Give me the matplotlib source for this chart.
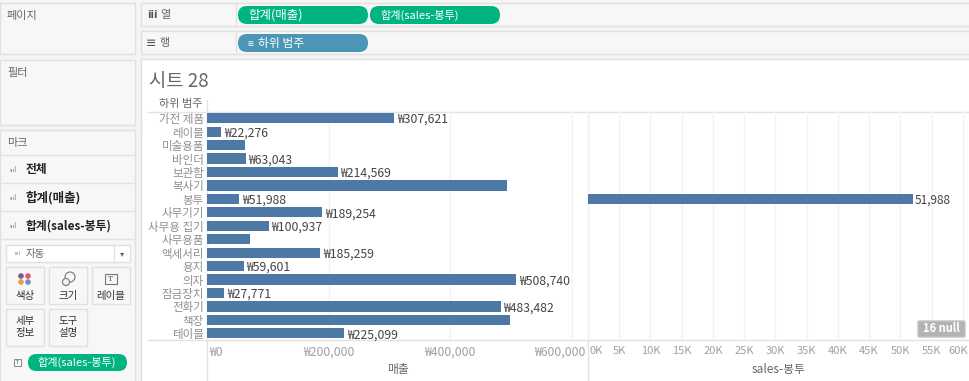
import matplotlib
matplotlib.use('Agg')
import matplotlib.pyplot as plt
from matplotlib.patches import Rectangle, FancyBboxPatch, Circle
from matplotlib.transforms import ScaledTranslation

plt.rcParams['font.family'] = ['Noto Sans CJK KR', 'DejaVu Sans']

# data
categories = ['가전 제품', '레이블', '미술용품', '바인더', '보관함', '복사기', '봉투', '사무기기',
              '사무용 집기', '사무용품', '액세서리', '용지', '의자', '잠금장치', '전화기', '책장', '테이블']
sales = [307621, 22276, 62000, 63043, 214569, 492851, 51988, 189254,
         100937, 70000, 185259, 59601, 508740, 27771, 483482, 499000, 225099]
# rows where the picture shows no label (no room for it)
no_label = ['미술용품', '복사기', '사무용품', '책장']
envelope_cat = ['봉투']
envelope_sales = [51988]

sales_ticks = [0, 200000, 400000, 600000]
sales_ticklabels = ['₩0', '₩200,000', '₩400,000', '₩600,000']
env_ticks = [0, 5000, 10000, 15000, 20000, 25000, 30000, 35000, 40000, 45000, 50000, 55000, 60000]
env_ticklabels = ['0K', '5K', '10K', '15K', '20K', '25K', '30K', '35K', '40K', '45K', '50K', '55K', '60K']

W, H = 970, 381
BAR = '#4e79a7'
GREEN = '#00b481'
TEAL = '#4a96b4'
GRID = '#f3f3f3'
LINE = '#e2e2e2'
TXT = '#666666'
LIGHT = '#8f8f8f'

fig = plt.figure(figsize=(W / 100, H / 100), dpi=100, facecolor='#f5f5f5')

# everything around the chart is drawn in pixel coordinates
bg = fig.add_axes([0, 0, 1, 1], zorder=0)
bg.set_xlim(0, W)
bg.set_ylim(H, 0)
bg.axis('off')


def panel(x0, y0, x1, y1, fc='white', ec='#e0e0e0', lw=1.0):
    bg.add_patch(Rectangle((x0, y0), x1 - x0, y1 - y0, fc=fc, ec=ec, lw=lw))


def pill(x0, y0, x1, y1, color, text, tx=None, fs=8):
    r = (y1 - y0) / 2
    bg.add_patch(FancyBboxPatch((x0, y0), x1 - x0, y1 - y0,
                                boxstyle='round,pad=0,rounding_size=%f' % r,
                                mutation_aspect=1, fc=color, ec='none'))
    bg.text(tx if tx else x0 + 10, (y0 + y1) / 2, text, color='white', fontsize=fs, va='center')


# left column
panel(0, 3, 135, 54, fc='#f7f7f7')
panel(0, 60, 135, 125, fc='#f7f7f7')
panel(0, 130, 135, 382, fc='#f7f7f7')
bg.text(7, 16, '페이지', fontsize=8, color=TXT, va='center')
bg.text(7, 73, '필터', fontsize=8, color=TXT, va='center')
bg.text(7, 143, '마크', fontsize=8, color=TXT, va='center')
for y in [155, 183, 211, 239]:
    bg.plot([0, 135], [y, y], color=LINE, lw=1)
bg.text(26, 169, '전체', fontsize=8.5, color='#222222', va='center', fontweight='bold')
bg.text(26, 198, '합계(매출)', fontsize=9, color='#222222', va='center', fontweight='bold')
bg.text(26, 226, '합계(sales-봉투)', fontsize=8.5, color='#222222', va='center', fontweight='bold')
for y in [170, 198, 226]:
    bg.text(13, y, 'ıııl', fontsize=4.5, color='#777777', va='center', ha='center')

# mark type dropdown
panel(6, 245, 130, 262)
bg.plot([114, 114], [245, 262], color=LINE, lw=1)
bg.text(26, 253.5, '자동', fontsize=7.5, color=TXT, va='center')
bg.text(18, 253.5, 'ıııl', fontsize=4, color='#888888', va='center', ha='center')
bg.text(122, 253.5, '▾', fontsize=6, color='#666666', va='center', ha='center')

# mark buttons
for x0, x1, y0, y1 in [(6, 44, 267, 304), (49, 87, 267, 304), (92, 130, 267, 304),
                       (6, 44, 309, 346), (49, 87, 309, 346)]:
    panel(x0, y0, x1, y1, fc='#f7f7f7')
bg.text(25, 296, '색상', fontsize=7.5, color='#333333', ha='center', va='center')
bg.text(68, 296, '크기', fontsize=7.5, color='#333333', ha='center', va='center')
bg.text(111, 296, '레이블', fontsize=7.5, color='#333333', ha='center', va='center')
bg.text(25, 321, '세부', fontsize=7.5, color='#333333', ha='center', va='center')
bg.text(25, 333, '정보', fontsize=7.5, color='#333333', ha='center', va='center')
bg.text(68, 321, '도구', fontsize=7.5, color='#333333', ha='center', va='center')
bg.text(68, 333, '설명', fontsize=7.5, color='#333333', ha='center', va='center')
for (cx, cy), c in zip([(21, 276), (28, 276), (21, 282), (28, 282)],
                       ['#7b5a8c', '#e2596b', '#eb9a4e', '#6f8fc0']):
    bg.add_patch(Circle((cx, cy), 2.8, fc=c, ec='none'))
bg.add_patch(Circle((70, 277), 5, fc='none', ec='#777777', lw=0.8))
bg.add_patch(Circle((66, 282), 3.5, fc='#f7f7f7', ec='#777777', lw=0.8))
bg.add_patch(Rectangle((105, 274), 12, 10, fc='none', ec='#777777', lw=0.8))
bg.text(111, 279, 'T', fontsize=5.5, color='#555555', ha='center', va='center', family='DejaVu Serif')
bg.add_patch(Rectangle((14, 359), 7, 7, fc='none', ec='#888888', lw=0.7))
bg.text(17.5, 362.5, 'T', fontsize=4, color='#666666', ha='center', va='center')
pill(28, 354, 127, 371, GREEN, '합계(sales-봉투)', tx=37, fs=8)

# shelves
panel(141, 3, 971, 26, fc='#f7f7f7')
panel(141, 31, 971, 54, fc='#f7f7f7')
bg.plot([236.5, 236.5], [3, 26], color=LINE, lw=1)
bg.plot([236.5, 236.5], [31, 54], color=LINE, lw=1)
bg.text(147, 15, 'iii', fontsize=7, color='#555555', va='center', family='DejaVu Sans', fontweight='bold')
bg.text(160, 15, '열', fontsize=8, color=TXT, va='center')
bg.text(146, 43, '≡', fontsize=9, color='#555555', va='center', family='DejaVu Sans')
bg.text(160, 43, '행', fontsize=8, color=TXT, va='center')
pill(238, 6, 368, 24, GREEN, '합계(매출)', tx=248, fs=9)
pill(370, 6, 500, 24, GREEN, '합계(sales-봉투)', tx=380, fs=8)
pill(238, 34, 368, 52, TEAL, '하위 범주', tx=258, fs=8.5)
bg.text(250, 43.5, '⊞', fontsize=5, color='white', va='center', ha='center', family='DejaVu Sans')

# chart sheet
panel(141, 59, 971, 382)
bg.text(149, 81, '시트 28', fontsize=13.5, color='#666666', va='center')
bg.text(203, 104, '하위 범주', fontsize=8, color=TXT, ha='right', va='center')

TOP, BOTTOM = 111.5, 340
L0, L1 = 207.5, 588
R0, R1 = 588, 969
bg.plot([148, 969], [TOP, TOP], color=LINE, lw=1)
bg.plot([148, 969], [BOTTOM, BOTTOM], color=LINE, lw=1)
bg.plot([L0, L0], [100, H], color=LINE, lw=1)
bg.plot([L1, L1], [TOP, H], color=LINE, lw=1)
bg.text(398, 370, '매출', fontsize=8.5, color=TXT, ha='center', va='center')
bg.text(779, 370, 'sales-봉투', fontsize=8.5, color=TXT, ha='center', va='center')


def chart_axes(x0, x1):
    ax = fig.add_axes([x0 / W, 1 - BOTTOM / H, (x1 - x0) / W, (BOTTOM - TOP) / H], zorder=1)
    ax.patch.set_alpha(0)
    for s in ax.spines.values():
        s.set_visible(False)
    ax.set_axisbelow(True)
    ax.grid(True, axis='x', color=GRID, lw=1)
    ax.tick_params(length=0, pad=5)
    ax.set_ylim(len(categories) - 0.5, -0.5)
    return ax


def shift_label(label, px, ha):
    label.set_ha(ha)
    label.set_transform(label.get_transform() + ScaledTranslation(px / 100, 0, fig.dpi_scale_trans))


ax1 = chart_axes(L0, L1)
ypos = list(range(len(categories)))
ax1.barh(ypos, sales, height=0.76, color=BAR)
ax1.set_xlim(0, 627000)
ax1.set_yticks(ypos)
ax1.set_yticklabels(categories, fontsize=8.3, color=LIGHT)
ax1.tick_params(axis='y', pad=2.5)
ax1.set_xticks(sales_ticks)
ax1.set_xticklabels(sales_ticklabels, fontsize=8.8, color='#a0a0a0')
ax1.tick_params(axis='x', pad=4)
xl = ax1.get_xticklabels()
shift_label(xl[0], 1.5, 'left')
shift_label(xl[-1], 14, 'right')
for y, cat, v in zip(ypos, categories, sales):
    if cat not in no_label:
        ax1.annotate('₩{:,}'.format(v), (v, y), xytext=(2, -1), textcoords='offset points',
                     fontsize=8.8, color='#444444', va='center')

ax2 = chart_axes(R0, R1)
env_y = [categories.index(c) for c in envelope_cat]
ax2.barh(env_y, envelope_sales, height=0.76, color=BAR)
ax2.set_xlim(0, 61000)
ax2.set_yticks([])
ax2.set_xticks(env_ticks)
ax2.set_xticklabels(env_ticklabels, fontsize=8, color='#a0a0a0')
ax2.tick_params(axis='x', pad=4)
xl = ax2.get_xticklabels()
shift_label(xl[0], 1.5, 'left')
shift_label(xl[-1], 5, 'right')
for y, v in zip(env_y, envelope_sales):
    ax2.annotate('{:,}'.format(v), (v, y), xytext=(1.5, -1), textcoords='offset points',
                 fontsize=8.5, color='#444444', va='center')

# null badge on top of the pane
top = fig.add_axes([0, 0, 1, 1], zorder=2)
top.set_xlim(0, W)
top.set_ylim(H, 0)
top.axis('off')
top.add_patch(FancyBboxPatch((918, 321), 47, 16, boxstyle='round,pad=0,rounding_size=1.5',
                             fc='#b3b3b3', ec='#c4c4c4', lw=1))
top.text(941.5, 329, '16 null', fontsize=8, color='white', fontweight='bold', ha='center', va='center')

fig.savefig('out.png', dpi=100, facecolor=fig.get_facecolor())
